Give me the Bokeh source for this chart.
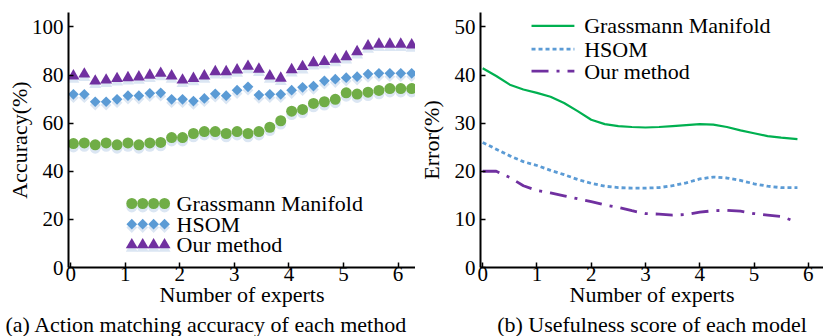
import numpy as np
from bokeh.plotting import figure
from bokeh.layouts import row
from bokeh.models import Range1d, Label, Title, FixedTicker
from bokeh.embed import file_html
from bokeh.resources import INLINE

FONT = "'Liberation Serif', serif"

# ---------------- data: panel (a) ----------------
experts_a = [0.05, 0.25, 0.45, 0.65, 0.85, 1.05, 1.25, 1.45, 1.65, 1.85, 2.05, 2.25,
             2.45, 2.65, 2.85, 3.05, 3.25, 3.45, 3.65, 3.85, 4.05, 4.25, 4.45, 4.65,
             4.85, 5.05, 5.25, 5.45, 5.65, 5.85, 6.05, 6.25]
grassmann_acc = [51.5, 51.8, 51.0, 51.8, 51.0, 51.8, 51.0, 51.8, 52.0, 54.0, 54.0, 55.7,
                 56.5, 56.5, 55.7, 56.5, 55.7, 56.5, 58.3, 61.0, 65.0, 65.7, 68.2, 68.9,
                 69.9, 72.6, 72.1, 72.9, 73.6, 74.4, 74.4, 74.4]
hsom_acc = [72.0, 72.0, 68.9, 68.9, 69.9, 71.4, 71.4, 72.4, 72.6, 69.9, 69.9, 69.2,
            70.3, 72.2, 71.4, 73.7, 75.1, 71.7, 72.0, 72.0, 73.7, 74.9, 75.4, 77.6,
            78.3, 78.9, 79.3, 80.4, 80.7, 80.7, 80.7, 80.7]
ours_acc = [79.6, 80.4, 77.5, 77.9, 78.5, 78.9, 79.2, 79.9, 80.7, 79.6, 77.9, 78.6,
            79.6, 81.4, 81.4, 82.1, 83.6, 82.4, 79.6, 78.7, 82.2, 83.5, 85.1, 85.6,
            86.5, 87.6, 89.7, 92.1, 92.8, 92.8, 92.8, 92.5]
xticks = [0, 1, 2, 3, 4, 5, 6]
yticks_a = [0, 20, 40, 60, 80, 100]

# ---------------- data: panel (b) ----------------
experts_b = [0, 0.25, 0.5, 0.75, 1.0, 1.25, 1.5, 1.75, 2.0, 2.25, 2.5, 2.75,
             3.0, 3.25, 3.5, 3.75, 4.0, 4.25, 4.5, 4.75, 5.0, 5.25, 5.5, 5.8]
grassmann_err = [41.4, 39.8, 38.0, 37.0, 36.3, 35.5, 34.2, 32.5, 30.7, 29.8, 29.4, 29.2,
                 29.1, 29.2, 29.4, 29.6, 29.8, 29.7, 29.2, 28.5, 27.9, 27.3, 27.0, 26.7]
hsom_err = [26.0, 24.6, 23.2, 22.0, 21.2, 20.2, 19.3, 18.3, 17.5, 16.9, 16.6, 16.5,
            16.5, 16.6, 17.0, 17.6, 18.4, 18.8, 18.6, 18.1, 17.4, 16.9, 16.6, 16.6]
ours_err = [20.0, 20.0, 18.7, 17.0, 16.0, 15.5, 14.9, 14.3, 13.7, 13.0, 12.5, 11.8,
            11.2, 11.1, 10.9, 11.0, 11.5, 11.8, 11.9, 11.7, 11.2, 10.9, 10.6, 9.4]
yticks_b = [0, 10, 20, 30, 40, 50]

names = ["Grassmann Manifold", "HSOM", "Our method"]
GREEN_M, BLUE_M, PURPLE_M = "#70AD47", "#5B9BD5", "#7030A0"
GREEN_L = "#00B050"
SHADOW = "#dbe6f3"
TXT = "22px"


def style(p, yticks, ylabel, ylabel_standoff):
    p.xaxis.ticker = FixedTicker(ticks=xticks)
    p.yaxis.ticker = FixedTicker(ticks=yticks)
    p.xgrid.grid_line_color = None
    p.ygrid.grid_line_color = None
    p.outline_line_color = None
    for ax in (p.xaxis[0], p.yaxis[0]):
        ax.axis_line_width = 2
        ax.axis_line_color = "black"
        ax.major_tick_in = 5
        ax.major_tick_out = 0
        ax.major_tick_line_width = 1.5
        ax.major_tick_line_color = "black"
        ax.minor_tick_line_color = None
        ax.major_label_text_font = FONT
        ax.major_label_text_font_size = "21px"
        ax.major_label_text_color = "black"
        ax.axis_label_text_font = FONT
        ax.axis_label_text_font_size = TXT
        ax.axis_label_text_font_style = "normal"
        ax.axis_label_text_color = "black"
    p.xaxis.axis_label = "Number of experts"
    p.xaxis.major_label_standoff = -1
    p.xaxis.axis_label_standoff = -2
    p.yaxis.axis_label = ylabel
    p.yaxis.axis_label_standoff = ylabel_standoff


# ---------------- panel (a) ----------------
p1 = figure(width=415, height=336, output_backend="svg", toolbar_location=None,
            x_range=Range1d(-0.04, 6.32), y_range=Range1d(0, 106),
            min_border_left=68, min_border_right=0, min_border_top=12, min_border_bottom=69)
style(p1, yticks_a, "Accuracy(%)", -3)

shadow_off = 1.4
specs_a = [
    (grassmann_acc, "circle", 11, GREEN_M, 0),
    (hsom_acc, "square", 7.6, BLUE_M, np.pi / 4),
    (ours_acc, "triangle", 12, PURPLE_M, 0),
]
for ys, mk, sz, col, ang in specs_a:
    p1.scatter(experts_a, np.array(ys) - shadow_off, marker=mk, size=sz, angle=ang,
               fill_color=SHADOW, line_color=None)
for ys, mk, sz, col, ang in specs_a:
    p1.scatter(experts_a, ys, marker=mk, size=sz, angle=ang,
               fill_color=col, line_color=None)

# legend of panel (a): four markers per entry
leg_x = [1.12, 1.32, 1.52, 1.72]
leg_y = [26.6, 18.0, 9.4]
leg_text_x = 1.94
for (ys, mk, sz, col, ang), ly, nm in zip(specs_a, leg_y, names):
    p1.scatter(leg_x, [ly - shadow_off] * 4, marker=mk, size=sz, angle=ang,
               fill_color=SHADOW, line_color=None)
    p1.scatter(leg_x, [ly] * 4, marker=mk, size=sz, angle=ang,
               fill_color=col, line_color=None)
    p1.add_layout(Label(x=leg_text_x, y=ly, text=nm, text_font=FONT,
                        text_font_size=TXT, text_baseline="middle", text_color="black"))

cap1 = Title(text="(a) Action matching accuracy of each method", align="left",
             text_font=FONT, text_font_size=TXT, text_font_style="normal",
             text_color="black", standoff=0, offset=-63)
p1.add_layout(cap1, "below")

# ---------------- panel (b) ----------------
p2 = figure(width=408, height=336, output_backend="svg", toolbar_location=None,
            x_range=Range1d(-0.04, 6.28), y_range=Range1d(0, 53),
            min_border_left=64, min_border_right=0, min_border_top=12, min_border_bottom=69)
style(p2, yticks_b, "Error(%)", 8)

line_specs = [
    (grassmann_err, GREEN_L, 2.2, "solid"),
    (hsom_err, BLUE_M, 2.8, "4 3"),
    (ours_err, PURPLE_M, 2.8, "17 8 3 8"),
]
for ys, col, lw, dash in line_specs:
    p2.line(experts_b, ys, line_color=col, line_width=lw, line_dash=dash)

# legend of panel (b)
leg2_x = [0.9, 1.69]
leg2_y = [50.2, 45.4, 40.8]
leg2_text_x = 1.87
for (ys, col, lw, dash), ly, nm in zip(line_specs, leg2_y, names):
    p2.line(leg2_x, [ly, ly], line_color=col, line_width=lw, line_dash=dash)
    p2.add_layout(Label(x=leg2_text_x, y=ly, text=nm, text_font=FONT,
                        text_font_size=TXT, text_baseline="middle", text_color="black"))

cap2 = Title(text="(b) Usefulness score of each model", align="center",
             text_font=FONT, text_font_size=TXT, text_font_style="normal",
             text_color="black", standoff=0)
p2.add_layout(cap2, "below")

layout = row(p1, p2)
open("out.html", "w").write(file_html(layout, INLINE))
